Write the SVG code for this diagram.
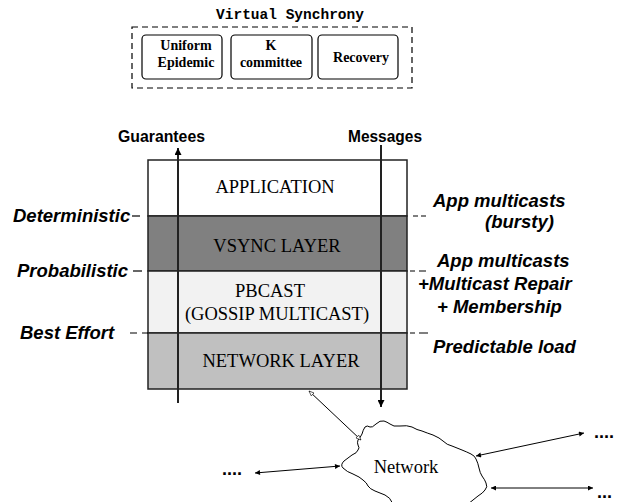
<svg xmlns="http://www.w3.org/2000/svg" width="621" height="502" viewBox="0 0 621 502">
<style>
.mono{font-family:"Liberation Mono","Courier New",monospace;font-weight:bold;font-size:14.5px;fill:#000}
.tb{font-family:"Liberation Serif","Times New Roman",serif;font-weight:bold;font-size:14px;fill:#000;text-anchor:middle}
.tr{font-family:"Liberation Serif","Times New Roman",serif;font-size:18.5px;fill:#000;text-anchor:middle}
.lab{font-family:"Liberation Sans",Arial,sans-serif;font-weight:bold;font-style:italic;font-size:18.5px;fill:#000}
.hdr{font-family:"Liberation Sans",Arial,sans-serif;font-weight:bold;font-size:17px;fill:#000}
.dots{font-family:"Liberation Sans",Arial,sans-serif;font-weight:bold;font-size:18px;fill:#000}
.box{stroke:#000;stroke-width:1.2;fill:#fff}
.lay{stroke:#222;stroke-width:1.5}
.dash{stroke:#000;stroke-width:1.2;stroke-dasharray:6,4;fill:none}
.thin{stroke:#000;stroke-width:1;fill:none}
.thick{stroke:#222;stroke-width:2;fill:none}
</style>
<defs>
<marker id="big" viewBox="0 0 10 10" refX="10" refY="5" markerWidth="8" markerHeight="7" orient="auto" markerUnits="userSpaceOnUse"><path d="M0,0 L10,5 L0,10 z" fill="#000"/></marker>
<marker id="sm" viewBox="0 0 10 10" refX="10" refY="5" markerWidth="10" markerHeight="5" orient="auto-start-reverse" markerUnits="userSpaceOnUse"><path d="M0,0 L10,5 L0,10 z" fill="#000"/></marker>
<marker id="hol" viewBox="0 0 10 10" refX="10" refY="5" markerWidth="9" markerHeight="5" orient="auto-start-reverse" markerUnits="userSpaceOnUse"><path d="M0,1 L10,5 L0,9 z" fill="#fff" stroke="#000" stroke-width="1.2"/></marker>
</defs>

<g id="virtual-synchrony">
<text class="mono" x="290" y="19" text-anchor="middle">Virtual Synchrony</text>
<rect class="dash" x="132" y="27" width="280" height="61"/>
</g>
<g id="uniform-epidemic">
<rect class="box" x="142" y="35" width="80" height="44" rx="4"/>
<text class="tb" x="186" y="50">Uniform</text>
<text class="tb" x="186" y="67">Epidemic</text>
</g>
<g id="k-committee">
<rect class="box" x="231" y="35" width="81" height="44" rx="4"/>
<text class="tb" x="271" y="50">K</text>
<text class="tb" x="271" y="67">committee</text>
</g>
<g id="recovery">
<rect class="box" x="318" y="35" width="80" height="44" rx="4"/>
<text class="tb" x="361" y="62">Recovery</text>
</g>

<g id="application">
<rect class="lay" x="148" y="160" width="259" height="56" fill="#fff"/>
<text class="tr" x="275" y="193">APPLICATION</text>
</g>
<g id="vsync-layer">
<rect class="lay" x="148" y="216" width="259" height="55" fill="#808080"/>
<text class="tr" x="277" y="252">VSYNC LAYER</text>
</g>
<g id="pbcast">
<rect class="lay" x="148" y="271" width="259" height="62" fill="#f2f2f2"/>
<text class="tr" x="270" y="297">PBCAST</text>
<text class="tr" x="277" y="320">(GOSSIP MULTICAST)</text>
</g>
<g id="network-layer">
<rect class="lay" x="148" y="333" width="259" height="56" fill="#c0c0c0"/>
<text class="tr" x="281" y="367">NETWORK LAYER</text>
</g>

<g id="left-labels">
<text class="hdr" x="118" y="142" textLength="87" lengthAdjust="spacingAndGlyphs">Guarantees</text>
<text class="lab" x="13" y="222">Deterministic</text>
<text class="lab" x="17" y="277">Probabilistic</text>
<text class="lab" x="20" y="339">Best Effort</text>
</g>
<g id="right-labels">
<text class="hdr" x="348" y="142" textLength="74" lengthAdjust="spacingAndGlyphs">Messages</text>
<text class="lab" x="433" y="207">App multicasts</text>
<text class="lab" x="485" y="228">(bursty)</text>
<text class="lab" x="437" y="267">App multicasts</text>
<text class="lab" x="418" y="290">+Multicast Repair</text>
<text class="lab" x="437" y="313">+ Membership</text>
<text class="lab" x="433" y="353">Predictable load</text>
</g>

<g id="network">
<path class="thin" d="M393,504 Q390,497 385,495 Q380,493 375,491 Q370,489 368,486 Q367,483 363,480 Q360,477 353,474 Q347,472 343,468 Q340,465 344,461 Q348,458 352,455 Q357,453 358,450 Q360,448 358,445 Q357,443 358,440 Q360,438 362,434 Q363,430 365,427 Q367,425 370,427 Q372,428 376,424 Q380,420 384,421 Q387,422 390,424 Q393,427 400,426 Q407,425 412,427 Q417,430 422,431 Q427,433 433,435 Q440,438 443,441 Q447,445 452,446 Q457,448 462,450 Q467,452 471,454 Q475,456 476,459 Q478,463 479,468 Q480,473 482,476 Q485,480 486,483 Q488,487 485,490 Q483,493 478,496 Q473,500 468,504"/>
<text class="tr" x="406" y="473">Network</text>
</g>

<g id="dots">
<text class="dots" x="222" y="475">....</text>
<text class="dots" x="594" y="438">....</text>
<text class="dots" x="597" y="498">...</text>
</g>

<g id="connectors">
<line class="thick" x1="178" y1="403" x2="178" y2="148" marker-end="url(#big)"/>
<line class="thick" x1="381" y1="145" x2="381" y2="407" marker-end="url(#big)"/>
<line class="dash" x1="132" y1="216" x2="148" y2="216" style="stroke-dasharray:8,8"/>
<line class="dash" x1="407" y1="216" x2="426" y2="216" style="stroke-dasharray:0,6,5,3,5"/>
<line class="dash" x1="133" y1="271" x2="148" y2="271" style="stroke-dasharray:9,6"/>
<line class="dash" x1="407" y1="271" x2="426" y2="271" style="stroke-dasharray:0,3,5,4,5"/>
<line class="dash" x1="130" y1="333" x2="148" y2="333" style="stroke-dasharray:7,5,6"/>
<line class="dash" x1="407" y1="333" x2="428" y2="333" style="stroke-dasharray:0,3,5,4,6"/>
<line class="thin" x1="309" y1="391" x2="361" y2="440" marker-start="url(#hol)" marker-end="url(#hol)"/>
<line class="thin" x1="340" y1="466" x2="255" y2="473" marker-start="url(#sm)" marker-end="url(#sm)"/>
<line class="thin" x1="476" y1="456" x2="584" y2="433" marker-start="url(#sm)" marker-end="url(#sm)"/>
<line class="thin" x1="491" y1="488" x2="593" y2="488" marker-start="url(#sm)" marker-end="url(#sm)"/>
</g>
</svg>
